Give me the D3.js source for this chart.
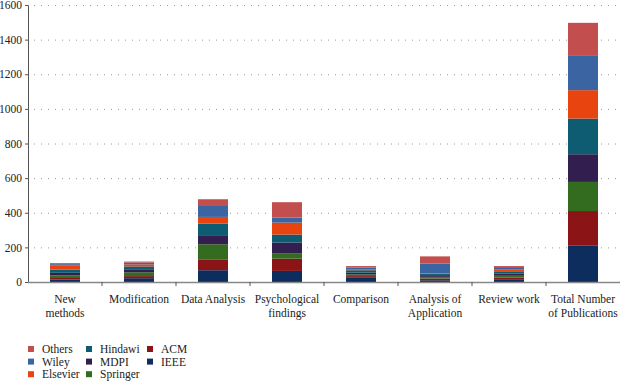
<!DOCTYPE html>
<html><head><meta charset="utf-8">
<script src="https://cdn.jsdelivr.net/npm/d3@7"></script>
<style>body{margin:0;background:#fff}svg{display:block}svg text{font-family:'Liberation Serif','Times New Roman','DejaVu Serif',serif !important;fill:#222}</style>
</head><body><svg id="c" width="620" height="381"></svg>
<script>
const categories = [["New","methods"],["Modification"],["Data Analysis"],["Psychological","findings"],["Comparison"],["Analysis of","Application"],["Review work"],["Total Number","of Publications"]];
const publishers = ["IEEE","ACM","Springer","MDPI","Hindawi","Elsevier","Wiley","Others"];
const colors = ["#0c2d5e","#8b1516","#336b1f","#331f4f","#0e5c72","#e8440f","#3b64a2","#c24f4e"];
const IEEE     = [15, 22, 68, 64, 24, 10, 16, 212];
const ACM      = [13, 12, 63, 71, 10, 10, 10, 198];
const Springer = [10, 22, 87, 29, 10,  8, 10, 168];
const MDPI     = [15, 14, 48, 64, 10,  6, 12, 160];
const Hindawi  = [19, 20, 71, 46, 14, 12, 14, 206];
const Elsevier = [25, 12, 39, 69,  6,  3, 12, 164];
const Wiley    = [ 6, 10, 63, 29, 10, 57, 12, 202];
const Others   = [ 6,  6, 39, 89,  8, 42,  6, 187];
const yTicks = [0,200,400,600,800,1000,1200,1400,1600];
const legendOrder = ["Others","Wiley","Elsevier","Hindawi","MDPI","Springer","ACM","IEEE"];

const FONT = "'Liberation Serif','Times New Roman','DejaVu Serif',serif";
const series = [IEEE,ACM,Springer,MDPI,Hindawi,Elsevier,Wiley,Others];
const rows = categories.map((c,i)=>{const r={i}; publishers.forEach((p,j)=>r[p]=series[j][i]); return r;});
const stack = d3.stack().keys(publishers)(rows);

const svg = d3.select("#c").attr("font-family",FONT);
const m = {l:28, r:0, t:5, b:99};
const W = 620, H = 381;
const x = d3.scaleBand().domain(d3.range(categories.length)).range([m.l, W]).paddingInner(0).paddingOuter(0);
const y = d3.scaleLinear().domain([0,1600]).range([H-m.b, m.t]);

// grid
svg.append("g").selectAll("line").data(yTicks.filter(d=>d>0)).join("line")
  .attr("x1", m.l+6).attr("x2", W).attr("y1", d=>y(d)+0.5).attr("y2", d=>y(d)+0.5)
  .attr("stroke","#9a9a9a").attr("stroke-width",1).attr("stroke-dasharray","1,6");

// bars
const bw = 30;
svg.append("g").selectAll("g").data(stack).join("g")
  .attr("fill",(d,j)=>colors[j])
  .selectAll("rect").data(d=>d).join("rect")
  .attr("x",(d,i)=>x(i)+x.bandwidth()/2-bw/2).attr("width",bw)
  .attr("y",d=>y(d[1])).attr("height",d=>Math.max(0,y(d[0])-y(d[1])));

// y axis
const ya = svg.append("g").attr("transform",`translate(${m.l},0)`)
  .call(d3.axisLeft(y).tickValues(yTicks).tickSize(3).tickFormat(d3.format("d")));
ya.attr("font-family",FONT).attr("font-size",11.5);
ya.select(".domain").attr("stroke","#555");
ya.selectAll(".tick line").attr("stroke","#555");
ya.selectAll(".tick text").attr("x",-6).attr("fill","#222").style("font-family",FONT);

// x axis
const xa = svg.append("g").attr("transform",`translate(0,${y(0)})`);
xa.append("line").attr("x1",m.l).attr("x2",W).attr("y1",0.5).attr("y2",0.5).attr("stroke","#888").attr("stroke-width",1.5);
xa.selectAll(".tk").data(d3.range(1,categories.length)).join("line").attr("class","tk")
  .attr("x1",d=>x(d)).attr("x2",d=>x(d)).attr("y1",0).attr("y2",4).attr("stroke","#555");
const lbl = xa.selectAll(".lb").data(categories).join("text").attr("class","lb")
  .attr("text-anchor","middle").attr("font-size",11.5).style("font-family",FONT)
  .attr("transform",(d,i)=>`translate(${x(i)+x.bandwidth()/2},${21})`);
lbl.selectAll("tspan").data(d=>d).join("tspan").attr("x",0).attr("dy",(d,k)=>k?14:0).text(d=>d);

// legend
const lg = svg.append("g");
legendOrder.forEach((name,k)=>{
  const col = Math.floor(k/3), row = k%3;
  const gx = [28,86,147][col], gy = 349 + row*12.6;
  lg.append("rect").attr("x",gx).attr("y",gy-3).attr("width",6).attr("height",6).attr("fill",colors[publishers.indexOf(name)]);
  lg.append("text").attr("x",gx+14).attr("y",gy+4).attr("font-size",11.5).style("font-family",FONT).text(name);
});
</script></body></html>
